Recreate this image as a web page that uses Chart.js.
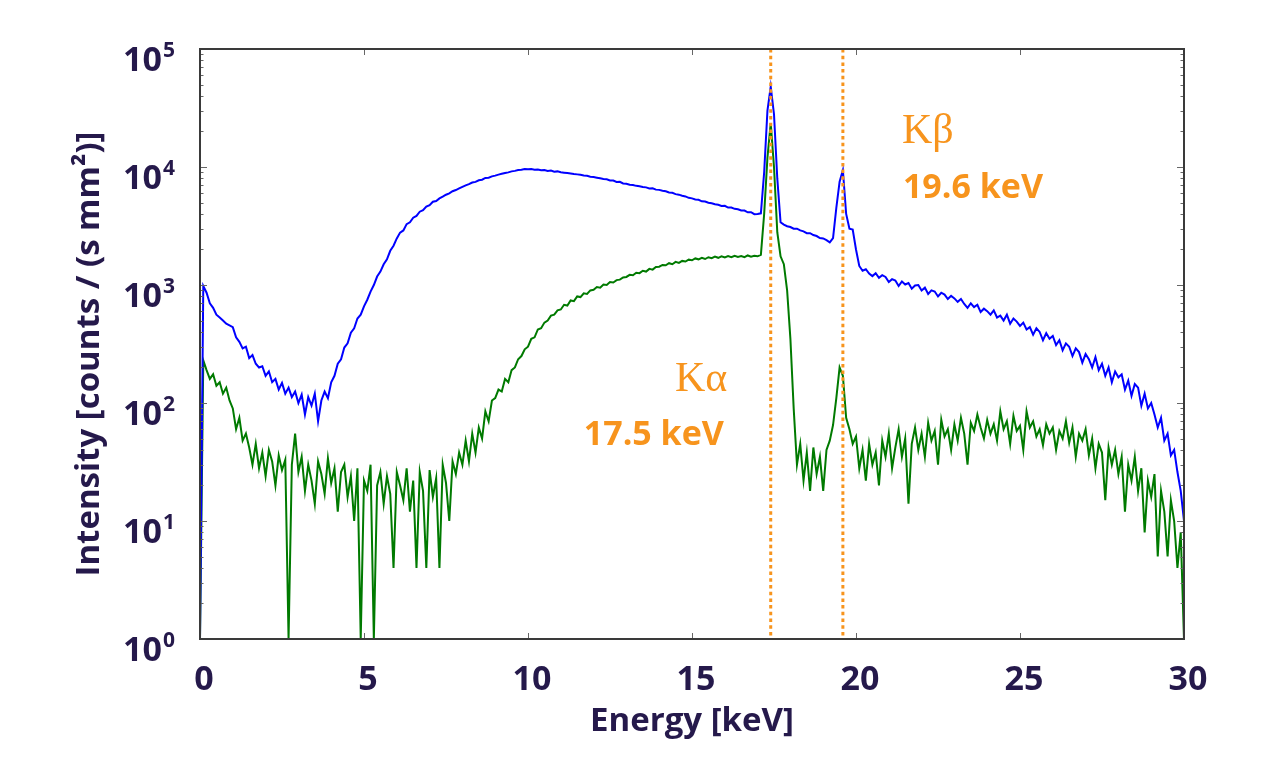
<!DOCTYPE html>
<html>
<head>
<meta charset="utf-8">
<script src="https://cdn.jsdelivr.net/npm/chart.js@4.4.1/dist/chart.umd.min.js"></script>
<style>
  html, body { margin: 0; padding: 0; background: #ffffff; }
  #wrap { width: 1281px; height: 783px; position: relative; }
</style>
</head>
<body>
<div id="wrap"><canvas id="c"></canvas></div>
<script>
// ---------------- DATA ----------------
// Spectrum channels: 0.1 keV per channel, starting at 0 keV
const CHANNEL_START_KEV = 0;
const CHANNEL_WIDTH_KEV = 0.1;

// Blue spectrum (intensity, counts / (s mm^2)), one row per keV
const blueIntensity = [
  1, 980, 860, 700, 640, 560, 530, 500, 470, 455,            // 0
  440, 360, 330, 290, 300, 240, 255, 215, 200, 205,          // 1
  170, 185, 150, 160, 130, 148, 120, 135, 112, 125,          // 2
  100, 118, 80, 112, 95, 120, 70, 105, 125, 110,             // 3
  150, 170, 215, 235, 295, 320, 395, 430, 520, 560,          // 4
  660, 750, 880, 1000, 1180, 1300, 1500, 1650, 1950, 2150,   // 5
  2480, 2780, 2900, 3280, 3400, 3720, 3850, 4180, 4300, 4620,// 6
  4750, 5080, 5150, 5420, 5600, 5820, 5980, 6230, 6380, 6580,// 7
  6780, 6980, 7150, 7380, 7480, 7720, 7800, 8080, 8120, 8330,// 8
  8450, 8620, 8750, 8880, 9000, 9180, 9270, 9430, 9480, 9620,// 9
  9580, 9620, 9480, 9520, 9380, 9420, 9250, 9330, 9120, 9180,// 10
  9020, 8950, 8880, 8800, 8720, 8660, 8580, 8470, 8420, 8280,// 11
  8220, 8120, 8020, 7930, 7870, 7700, 7680, 7480, 7500, 7260,// 12
  7220, 7080, 7030, 6920, 6880, 6770, 6720, 6580, 6600, 6430,// 13
  6400, 6300, 6220, 6080, 6040, 5890, 5830, 5700, 5630, 5480,// 14
  5420, 5300, 5270, 5120, 5090, 4980, 4930, 4830, 4780, 4680,// 15
  4690, 4530, 4530, 4420, 4380, 4280, 4270, 4130, 4140, 3980,// 16
  4000, 4050, 9000, 30000, 48000, 28000, 8000, 3400, 3250, 3150, // 17
  3100, 3000, 3000, 2900, 2850, 2750, 2750, 2650, 2600, 2500,// 18
  2480, 2400, 2300, 2500, 4500, 7500, 9400, 4000, 3000, 2950,// 19
  2000, 1450, 1320, 1360, 1250, 1190, 1260, 1150, 1210, 1170,// 20
  1060, 1120, 1090, 980, 1070, 1010, 1040, 930, 990, 1000,   // 21
  900, 950, 840, 900, 880, 800, 860, 830, 760, 810,          // 22
  770, 720, 760, 690, 640, 700, 650, 680, 590, 630,          // 23
  600, 560, 610, 530, 550, 500, 560, 470, 520, 490,          // 24
  450, 480, 420, 440, 380, 430, 400, 340, 390, 350,          // 25
  370, 310, 340, 280, 320, 300, 250, 290, 270, 220,          // 26
  260, 235, 200, 245, 190, 215, 170, 200, 150, 185,          // 27
  165, 175, 130, 155, 115, 145, 135, 95, 120, 90,            // 28
  100, 80, 62, 75, 48, 55, 36, 40, 26, 18,                   // 29
  10                                                         // 30
];

// Green spectrum (intensity, counts / (s mm^2)), one row per keV
const greenIntensity = [
  1, 230, 190, 160, 175, 140, 150, 120, 135, 105,            // 0
  90, 60, 75, 48, 55, 42, 30, 45, 28, 38,                    // 1
  24, 40, 32, 20, 36, 27, 33, 1, 30, 55,                     // 2
  26, 35, 18, 30, 22, 14, 32, 25, 17, 34,                    // 3
  21, 28, 12, 26, 30, 16, 24, 10, 28, 1,                     // 4
  22, 18, 30, 1, 20, 26, 14, 24, 17, 4,                      // 5
  26, 20, 15, 28, 12, 22, 4, 26, 18, 4,                      // 6
  27, 16, 23, 4, 30, 21, 10, 32, 25, 38,                     // 7
  30, 48, 32, 55, 38, 62, 50, 85, 70, 105,                   // 8
  110, 130, 125, 160, 150, 190, 200, 235, 250, 285,          // 9
  300, 350, 360, 420, 430, 480, 500, 550, 560, 610,          // 10
  620, 680, 670, 740, 730, 800, 790, 850, 840, 900,          // 11
  910, 960, 950, 1010, 1000, 1060, 1050, 1100, 1110, 1160,   // 12
  1170, 1220, 1210, 1270, 1260, 1320, 1300, 1370, 1350, 1420,// 13
  1430, 1480, 1470, 1530, 1500, 1570, 1540, 1600, 1580, 1640,// 14
  1620, 1680, 1650, 1700, 1660, 1720, 1690, 1740, 1700, 1750,// 15
  1710, 1760, 1720, 1770, 1730, 1760, 1720, 1780, 1740, 1770,// 16
  1750, 1800, 4000, 12000, 23600, 10000, 2800, 1750, 1500, 900, // 17
  350, 90, 30, 45, 22, 38, 18, 42, 25, 35,                   // 18
  18, 40, 48, 65, 110, 200, 170, 75, 60, 45,                 // 19
  52, 28, 40, 22, 45, 30, 38, 20, 48, 35,                    // 20
  55, 28, 42, 60, 35, 50, 14, 45, 62, 40,                    // 21
  55, 35, 68, 48, 58, 30, 72, 52, 60, 40,                    // 22
  66, 48, 75, 55, 30, 68, 58, 80, 62, 50,                    // 23
  72, 55, 66, 48, 85, 60, 70, 45, 78, 58,                    // 24
  64, 40, 85, 62, 70, 52, 60, 44, 66, 55,                    // 25
  62, 40, 58, 50, 70, 46, 62, 35, 55, 48,                    // 26
  60, 36, 50, 28, 45, 38, 15, 42, 30, 40,                    // 27
  25, 35, 12, 30, 22, 35, 18, 28, 8, 22,                     // 28
  16, 25, 5, 18, 12, 5, 15, 10, 4, 8,                        // 29
  1                                                          // 30
];

const xTickValues = [0, 5, 10, 15, 20, 25, 30];
const xTickLabels = ['0', '5', '10', '15', '20', '25', '30'];
const yTickExponents = [0, 1, 2, 3, 4, 5];
const lineEnergies = [17.4, 19.6];

// Annotation texts anchored in data coordinates (energy, intensity)
const annotations = [
  { text: 'K\u03B1', x: 14.48, y: 126, serif: true },
  { text: '17.5 keV', x: 11.7, y: 44, serif: false },
  { text: 'K\u03B2', x: 21.4, y: 15900, serif: true },
  { text: '19.6 keV', x: 21.43, y: 5460, serif: false }
];

const xTitle = 'Energy [keV]';
const yTitle = 'Intensity [counts / (s mm\u00B2)]';

// ---------------- STYLE ----------------
const TEXT = '#25194b';
const ORANGE = '#F7941D';
const SANS = '"Open Sans", "Noto Sans", sans-serif';
const SERIF = '"Liberation Serif", "DejaVu Serif", serif';

const toPoints = (arr) => arr.map((v, i) => ({ x: CHANNEL_START_KEV + i * CHANNEL_WIDTH_KEV, y: v }));

const decor = {
  id: 'decor',
  afterDatasetsDraw(chart) {
    const { ctx, chartArea, scales } = chart;
    const { left, right, top, bottom } = chartArea;
    const x = scales.x, y = scales.y;
    ctx.save();

    // dotted marker lines
    ctx.strokeStyle = ORANGE;
    ctx.lineWidth = 3;
    ctx.setLineDash([3.5, 3.2]);
    lineEnergies.forEach(e => {
      const px = x.getPixelForValue(e);
      ctx.beginPath();
      ctx.moveTo(px, top);
      ctx.lineTo(px, bottom);
      ctx.stroke();
    });
    ctx.setLineDash([]);

    // tick marks (inside, all four sides)
    ctx.strokeStyle = '#666666';
    ctx.lineWidth = 1;
    for (let d = 0; d < 5; d++) {
      for (let m = 1; m < 10; m++) {
        const v = m * Math.pow(10, d);
        const py = Math.round(y.getPixelForValue(v)) + 0.5;
        const len = m === 1 ? 7 : 3.5;
        ctx.beginPath();
        ctx.moveTo(left, py); ctx.lineTo(left + len, py);
        ctx.moveTo(right, py); ctx.lineTo(right - len, py);
        ctx.stroke();
      }
    }
    xTickValues.forEach(v => {
      const px = Math.round(x.getPixelForValue(v)) + 0.5;
      ctx.beginPath();
      ctx.moveTo(px, bottom); ctx.lineTo(px, bottom - 6);
      ctx.moveTo(px, top); ctx.lineTo(px, top + 6);
      ctx.stroke();
    });

    // frame
    ctx.strokeStyle = '#3a3a3a';
    ctx.lineWidth = 2;
    ctx.strokeRect(left, top, right - left, bottom - top);

    // x tick labels
    ctx.fillStyle = TEXT;
    ctx.font = 'bold 34px ' + SANS;
    ctx.textAlign = 'center';
    ctx.textBaseline = 'alphabetic';
    xTickValues.forEach((v, i) => {
      ctx.fillText(xTickLabels[i], x.getPixelForValue(v) + 4, bottom + 51);
    });

    // y tick labels 10^n
    yTickExponents.forEach(n => {
      const py = y.getPixelForValue(Math.pow(10, n));
      ctx.font = 'bold 34px ' + SANS;
      ctx.textAlign = 'right';
      ctx.fillText('10', left - 38, py + 22);
      ctx.font = 'bold 21px ' + SANS;
      ctx.textAlign = 'left';
      ctx.fillText(String(n), left - 37, py + 8);
    });

    // axis titles
    ctx.font = 'bold 33px ' + SANS;
    ctx.textAlign = 'center';
    ctx.fillText(xTitle, (left + right) / 2, bottom + 92);
    ctx.save();
    ctx.translate(90, (top + bottom) / 2 + 10);
    ctx.rotate(-Math.PI / 2);
    ctx.textBaseline = 'middle';
    ctx.fillText(yTitle, 0, 0);
    ctx.restore();

    // annotations
    ctx.fillStyle = ORANGE;
    ctx.textAlign = 'left';
    ctx.textBaseline = 'alphabetic';
    annotations.forEach(a => {
      ctx.font = a.serif ? '42px ' + SERIF : 'bold 34px ' + SANS;
      ctx.fillText(a.text, x.getPixelForValue(a.x), y.getPixelForValue(a.y));
    });

    ctx.restore();
  }
};

new Chart(document.getElementById('c'), {
  type: 'line',
  data: {
    datasets: [
      {
        label: 'Blue spectrum',
        data: toPoints(blueIntensity),
        borderColor: '#0000ff',
        borderWidth: 2,
        pointRadius: 0,
        tension: 0,
        fill: false
      },
      {
        label: 'Green spectrum',
        data: toPoints(greenIntensity),
        borderColor: '#007a00',
        borderWidth: 2,
        pointRadius: 0,
        tension: 0,
        fill: false
      }
    ]
  },
  options: {
    responsive: true,
    maintainAspectRatio: false,
    animation: false,
    layout: { padding: { left: 0, top: 49, right: 97, bottom: 0 } },
    plugins: { legend: { display: false }, tooltip: { enabled: false } },
    scales: {
      x: {
        type: 'linear',
        min: 0,
        max: 30,
        grid: { display: false },
        border: { display: false },
        ticks: { display: false },
        afterFit: (s) => { s.height = 144; }
      },
      y: {
        type: 'logarithmic',
        min: 1,
        max: 100000,
        grid: { display: false },
        border: { display: false },
        ticks: { display: false },
        afterFit: (s) => { s.width = 200; }
      }
    }
  },
  plugins: [decor]
});
</script>
</body>
</html>
